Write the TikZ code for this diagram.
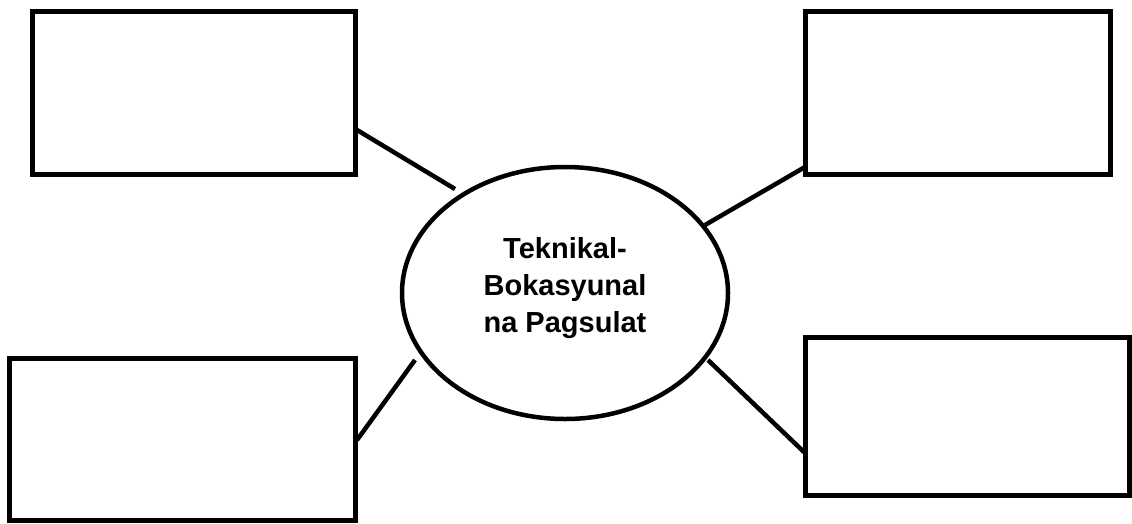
\documentclass[tikz,border=0pt]{standalone}
\usepackage{fontspec}
\setmainfont{Liberation Sans}
\usetikzlibrary{shapes.geometric}
\begin{document}
\begin{tikzpicture}[x=1pt,y=-1pt,
  blank/.style={draw=black,line width=5pt,rectangle,inner sep=0pt,outer sep=0pt},
  hub/.style={draw=black,line width=4.5pt,ellipse,inner sep=0pt,outer sep=0pt,
    minimum width=326pt,minimum height=252pt},
  hubtext/.style={align=center,inner sep=0pt,
    font=\bfseries\fontsize{29}{36.7}\selectfont},
  link/.style={draw=black,line width=4.5pt}]
\useasboundingbox (0,0) rectangle (1132,523);
\node[blank,minimum width=323pt,minimum height=163pt] (tl) at (194,93) {};
\node[blank,minimum width=305pt,minimum height=163pt] (tr) at (957.5,93) {};
\node[blank,minimum width=346pt,minimum height=162pt] (bl) at (182.5,439.5) {};
\node[blank,minimum width=324.5pt,minimum height=157.5pt] (br) at (967.25,416.25) {};
\node[hub] (c) at (565,293) {};
\node[hubtext,yshift=5pt] (ct) at (c) {Teknikal-\\Bokasyunal\\na Pagsulat};
\coordinate (a1) at (357,130); \coordinate (a2) at (455,189);
\coordinate (b1) at (805,167); \coordinate (b2) at (705,225);
\coordinate (d1) at (357,440); \coordinate (d2) at (415,360);
\coordinate (e1) at (805,453); \coordinate (e2) at (708,360);
\draw[link] (a1) -- (a2);
\draw[link] (b1) -- (b2);
\draw[link] (d1) -- (d2);
\draw[link] (e1) -- (e2);
\end{tikzpicture}
\end{document}
